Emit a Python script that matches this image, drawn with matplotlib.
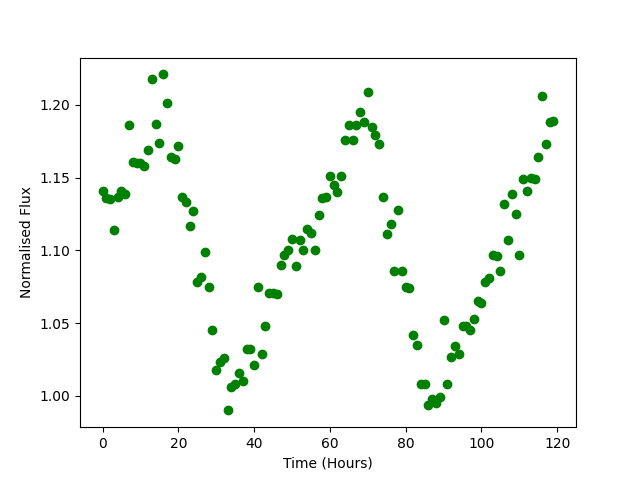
import numpy as np
import matplotlib
matplotlib.use("Agg")
import matplotlib.pyplot as plt

# hourly flux readings
hours = np.arange(120)
flux = [
    1.141, 1.136, 1.135, 1.114, 1.137, 1.141, 1.139, 1.186, 1.161, 1.160,
    1.160, 1.158, 1.169, 1.218, 1.187, 1.174, 1.221, 1.201, 1.164, 1.163,
    1.172, 1.137, 1.133, 1.117, 1.127, 1.078, 1.082, 1.099, 1.075, 1.045,
    1.018, 1.023, 1.026, 0.990, 1.006, 1.008, 1.016, 1.010, 1.032, 1.032,
    1.021, 1.075, 1.029, 1.048, 1.071, 1.071, 1.070, 1.090, 1.097, 1.100,
    1.108, 1.089, 1.107, 1.100, 1.115, 1.112, 1.100, 1.124, 1.136, 1.137,
    1.151, 1.145, 1.140, 1.151, 1.176, 1.186, 1.176, 1.186, 1.195, 1.188,
    1.209, 1.185, 1.179, 1.173, 1.137, 1.111, 1.118, 1.086, 1.128, 1.086,
    1.075, 1.074, 1.042, 1.035, 1.008, 1.008, 0.994, 0.998, 0.995, 0.999,
    1.052, 1.008, 1.027, 1.034, 1.029, 1.048, 1.048, 1.045, 1.053, 1.065,
    1.064, 1.078, 1.081, 1.097, 1.096, 1.086, 1.132, 1.107, 1.139, 1.125,
    1.097, 1.149, 1.141, 1.150, 1.149, 1.164, 1.206, 1.173, 1.188, 1.189,
]

plt.figure(figsize=(6.4, 4.8), dpi=100)
plt.plot(hours, flux, 'o', color='green')
plt.xlabel('Time (Hours)')
plt.ylabel('Normalised Flux')
plt.savefig("out.png")
